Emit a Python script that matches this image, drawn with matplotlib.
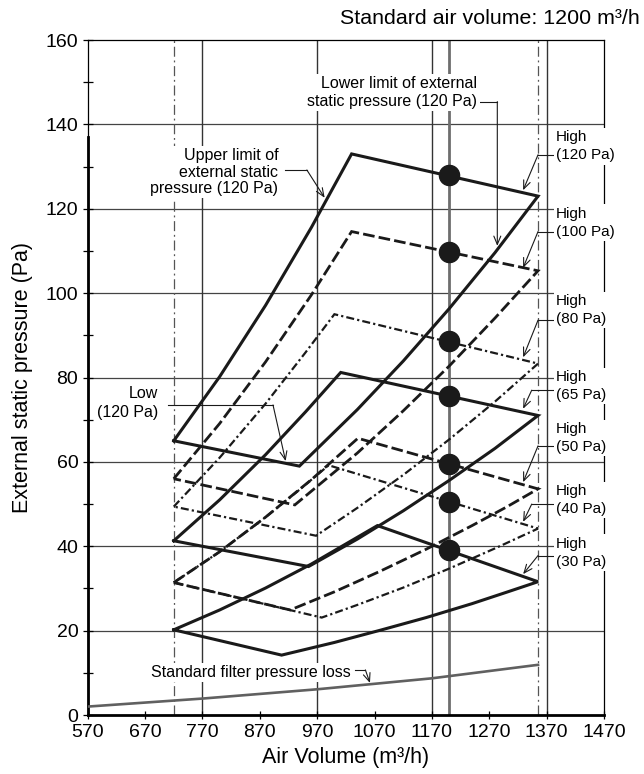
import matplotlib
matplotlib.use('Agg')
import matplotlib.pyplot as plt

plt.rcParams['font.family'] = ['Liberation Sans', 'DejaVu Sans']

# operating range for every external static pressure setting
# start (Low) -> upper limit curve -> peak -> High line -> right end -> lower limit curve -> trough -> Low line
q_120 = [720, 800, 880, 960, 1030, 1355, 1280, 1200, 1120, 1040, 939, 720]
p_120 = [65.0, 80.2, 97.1, 115.6, 133.0, 123.0, 109.6, 96.3, 83.9, 72.4, 59.0, 65.0]

q_100 = [720, 800, 880, 960, 1030, 1355, 1280, 1200, 1120, 1040, 931, 720]
p_100 = [56.0, 69.1, 83.7, 99.6, 114.6, 105.3, 94.1, 82.7, 72.1, 62.1, 49.8, 56.0]

q_80 = [720, 800, 880, 950, 1000, 1355, 1280, 1200, 1120, 1040, 968, 720]
p_80 = [49.4, 61.0, 73.8, 86.0, 95.0, 83.3, 74.3, 65.3, 56.9, 49.1, 42.5, 49.4]

q_65 = [720, 800, 880, 950, 1011, 1355, 1280, 1200, 1120, 1040, 955, 720]
p_65 = [41.3, 51.0, 61.7, 71.9, 81.2, 71.0, 63.2, 55.6, 48.4, 41.7, 35.2, 41.3]

q_50 = [720, 800, 880, 960, 1041, 1355, 1300, 1240, 1160, 1080, 1000, 923, 720]
p_50 = [31.4, 38.7, 46.9, 55.8, 65.6, 53.6, 49.3, 44.9, 39.3, 34.1, 29.2, 24.9, 31.4]

q_40 = [720, 800, 880, 940, 990, 1355, 1280, 1200, 1120, 1040, 978, 720]
p_40 = [31.4, 38.7, 46.9, 53.5, 59.2, 44.2, 39.5, 34.7, 30.2, 26.1, 23.1, 31.4]

q_30 = [720, 800, 880, 960, 1075, 1355, 1300, 1240, 1160, 1080, 1000, 908, 720]
p_30 = [20.2, 24.9, 30.1, 35.8, 44.9, 31.6, 29.1, 26.4, 23.1, 20.1, 17.2, 14.2, 20.2]

settings = ['120 Pa', '100 Pa', '80 Pa', '65 Pa', '50 Pa', '40 Pa', '30 Pa']

# operating points at the standard air volume
std_q = 1200
dot_q = [1200, 1200, 1200, 1200, 1200, 1200, 1200]
dot_p = [128.0, 109.8, 88.6, 75.6, 59.6, 50.6, 39.0]

# standard filter pressure loss
filter_q = [570, 770, 970, 1170, 1355]
filter_p = [2.0, 3.9, 6.1, 8.7, 11.9]

# axes
x_ticks = [570, 670, 770, 870, 970, 1070, 1170, 1270, 1370, 1470]
y_ticks = [0, 20, 40, 60, 80, 100, 120, 140, 160]
y_minor = [10, 30, 50, 70, 90, 110, 130, 150]
grid_q = [770, 970, 1170, 1370]
grid_p = [20, 40, 60, 80, 100, 120, 140]
limit_q = [720, 1355]

solid = '-'
dashed = (0, (4.2, 1.5))
dashdot = (0, (3.6, 1.4, 1.0, 1.4))
styles = [solid, dashed, dashdot, solid, dashed, dashdot, solid]
widths = [2.2, 2.0, 1.6, 2.2, 2.0, 1.6, 2.2]

fig = plt.figure(figsize=(6.44, 7.74), dpi=100)
ax = fig.add_axes([0.1362, 0.0762, 0.8017, 0.8721])
ax.set_xlim(570, 1470)
ax.set_ylim(0, 160)

for y in grid_p:
    ax.axhline(y, color='#444444', lw=0.9, zorder=1)
for x in grid_q:
    ax.axvline(x, color='#333333', lw=1.0, zorder=1)
for x in limit_q:
    ax.axvline(x, color='#555555', lw=0.9, ls=(0, (8, 3, 1.5, 3)), zorder=1)
ax.axvline(std_q, color='#6e6e6e', lw=2.0, zorder=2)

regions = [(q_120, p_120), (q_100, p_100), (q_80, p_80), (q_65, p_65),
           (q_50, p_50), (q_40, p_40), (q_30, p_30)]
for (q, p), ls, lw in zip(regions, styles, widths):
    ax.plot(q, p, color='#1a1a1a', lw=lw, ls=ls, zorder=3,
            solid_joinstyle='miter', dash_joinstyle='miter')

ax.plot(filter_q, filter_p, color='#606060', lw=1.9, zorder=3)
ax.plot(dot_q, dot_p, 'o', ms=14.5, color='#1a1a1a', zorder=4)

# frame
ax.spines['top'].set_linewidth(0.9)
ax.spines['right'].set_linewidth(0.9)
ax.spines['left'].set_linewidth(0.9)
ax.spines['bottom'].set_linewidth(2.0)
ax.axvline(570, ymax=137 / 160, color='black', lw=2.0, clip_on=False, zorder=2.6)

ax.set_xticks(x_ticks)
ax.set_yticks(y_ticks)
ax.set_yticks(y_minor, minor=True)
ax.tick_params(axis='y', which='both', direction='inout', length=7.5, width=0.9, labelsize=14, pad=3)
ax.tick_params(axis='x', which='major', direction='inout', length=5.5, width=0.9, labelsize=14, pad=4)

ax.set_xlabel('Air Volume (m³/h)', fontsize=15.5, va='center')
ax.xaxis.set_label_coords(0.5, -0.063)
ax.set_ylabel('External static pressure (Pa)', fontsize=15.5, va='center')
ax.yaxis.set_label_coords(-0.127, 0.5)

fig.text(640 / 644, 1 - 18 / 774, 'Standard air volume: 1200 m³/h', fontsize=15.4,
         ha='right', va='center')

box = dict(boxstyle='square,pad=0.15', fc='white', ec='none')
arrow = dict(arrowstyle='->,head_length=0.6,head_width=0.25', color='#1a1a1a', lw=0.8,
             shrinkA=0, shrinkB=0)


def leader(points, tip):
    xs = [pt[0] for pt in points]
    ys = [pt[1] for pt in points]
    ax.plot(xs, ys, color='#1a1a1a', lw=0.8, clip_on=False, zorder=5)
    ax.annotate('', xy=tip, xytext=points[-1], arrowprops=arrow, zorder=5,
                annotation_clip=False)


# High labels on the right
label_y = [134.8, 116.7, 96.0, 78.0, 65.6, 51.0, 38.5]
lead_y = [132.8, 114.6, 93.6, 77.0, 63.8, 50.0, 37.8]
corner_q = [1355, 1355, 1355, 1344, 1355, 1344, 1355]
tip_p = [124.4, 106.0, 84.8, 72.6, 55.2, 45.8, 33.4]
for s, ly, ld, cq, tp in zip(settings, label_y, lead_y, corner_q, tip_p):
    ax.text(1386, ly, 'High\n(' + s + ')', fontsize=11, ha='left', va='center',
            linespacing=1.35, bbox=box, zorder=6, clip_on=False)
    leader([(1385, ld), (cq, ld)], (1329, tp))

ax.text(1249, 147.5, 'Lower limit of external\nstatic pressure (120 Pa)', fontsize=11.5,
        ha='right', va='center', multialignment='right', linespacing=1.22, bbox=box, zorder=6)
leader([(1252, 145.4), (1284, 145.4)], (1284, 111.2))

ax.text(902, 128.7, 'Upper limit of\nexternal static\npressure (120 Pa)', fontsize=11.5,
        ha='right', va='center', multialignment='right', linespacing=1.1, bbox=box, zorder=6)
leader([(914, 129.2), (952, 129.2)], (983, 122.6))

ax.text(693, 73.9, 'Low\n(120 Pa)', fontsize=11.5, ha='right', va='center',
        multialignment='right', linespacing=1.37, bbox=box, zorder=6)
leader([(710, 73.5), (893, 73.5)], (915, 60.2))

ax.text(680, 10.1, 'Standard filter pressure loss', fontsize=11.5, ha='left', va='center',
        bbox=box, zorder=6)
leader([(1036, 10.7), (1054, 10.7)], (1062, 7.6))

fig.savefig('out.png', dpi=100)
